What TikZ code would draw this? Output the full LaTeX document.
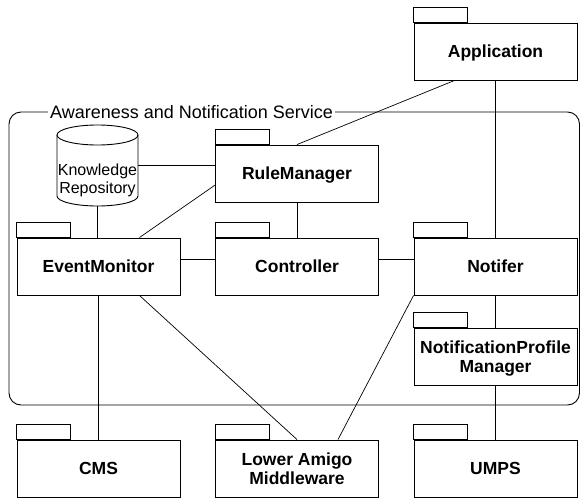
\documentclass[tikz,border=0pt]{standalone}
\usepackage{fontspec}
\setmainfont{Liberation Sans}
\usetikzlibrary{calc}

\begin{document}
\begin{tikzpicture}[x=1pt, y=-1pt,
  pkg/.style={draw, line width=0.9pt, minimum width=163pt, minimum height=57pt,
    inner sep=0pt, align=center, text depth=0pt,
    font=\bfseries\fontsize{17.5}{19.5}\selectfont},
  link/.style={line width=0.7pt}]

\useasboundingbox (0,0) rectangle (581,498);

% service boundary with its title cut into the top edge
\draw[line width=0.9pt, rounded corners=12pt] (9,112) rectangle (579.5,405);
\node[fill=white, anchor=west, inner xsep=2pt, inner ysep=0pt,
  font=\fontsize{18}{20}\selectfont] (ans) at (48,112) {Awareness and Notification Service};

% packages (body is the node, tab drawn on top afterwards)
\node[pkg] (app)  at (495.5,51.5)  {Application};
\node[pkg] (rm)   at (297,173.5)   {RuleManager};
\node[pkg] (em)   at (98.5,266.5)  {EventMonitor};
\node[pkg] (ctl)  at (297,266.5)   {Controller};
\node[pkg] (ntf)  at (495.5,266.5) {Notifer};
\node[pkg] (npm)  at (495.5,356.5) {NotificationProfile\\Manager};
\node[pkg] (cms)  at (98.5,468.5)  {CMS};
\node[pkg] (lam)  at (297,468.5)   {Lower Amigo\\Middleware};
\node[pkg] (umps) at (495.5,468.5) {UMPS};
\foreach \n in {app,rm,em,ctl,ntf,npm,cms,lam,umps}
  \draw[line width=0.9pt] (\n.north west) rectangle ++(54,-15);

% knowledge store
\node[minimum width=81pt, minimum height=81pt, inner sep=0pt] (kr) at (97.5,165.5) {};
\draw[line width=0.9pt] (57,135) -- (57,196)
  arc[start angle=180, end angle=360, x radius=40.5pt, y radius=10pt] -- (138,135);
\draw[line width=0.9pt] (97.5,135) ellipse [x radius=40.5pt, y radius=10pt];
\node[font=\fontsize{16}{18}\selectfont, align=center] (krtext) at (97.5,180) {Knowledge\\Repository};

% connectors
\draw[link] (kr.south) -- (kr.south |- em.north);
\draw[link] (kr.east) -- (kr.east -| rm.west);
\draw[link] ($(em.north west)!0.75!(em.north east)$) -- ($(rm.north west)!0.7!(rm.south west)$);
\draw[link] ($(app.south west)!0.25!(app.south east)$) -- (rm.north);
\draw[link] (rm.south) -- (ctl.north);
\draw[link] (app.south) -- (ntf.north);
\draw[link] ([yshift=7.5pt]em.east) -- ([yshift=7.5pt]ctl.west);
\draw[link] ([yshift=7.5pt]ctl.east) -- ([yshift=7.5pt]ntf.west);
\draw[link] (ntf.south) -- (npm.north);
\draw[link] (npm.south) -- (umps.north);
\draw[link] (em.south) -- (cms.north);
\draw[link] ($(em.south west)!0.75!(em.south east)$) -- (lam.north);
\draw[link] (ntf.south west) -- ($(lam.north west)!0.75!(lam.north east)$);

\end{tikzpicture}
\end{document}
